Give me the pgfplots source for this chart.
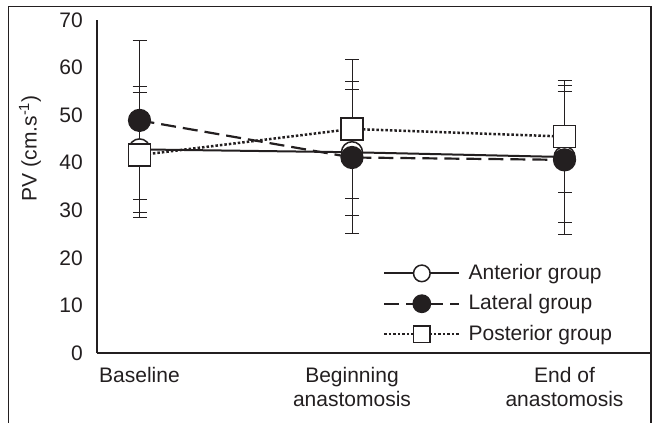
\documentclass[border=0pt]{standalone}
\usepackage{fontspec}
\setmainfont{Liberation Sans}
\usepackage{pgfplots}
\pgfplotsset{compat=1.18}
\definecolor{ink}{RGB}{35,31,32}

\begin{document}
\fontsize{21}{24.5}\selectfont
\begin{tikzpicture}[x=1pt,y=1pt]
\useasboundingbox (0,0) rectangle (664,-423);
\draw[ink, line width=1.2pt] (8.5,-423) -- (8.5,-6.5) -- (651,-6.5) -- (651,-423);
\begin{axis}[
  at={(97pt,-353pt)}, anchor=south west,
  scale only axis, width=554pt, height=333pt,
  xmin=-0.2, xmax=2.407, ymin=0, ymax=70,
  axis x line=bottom, axis y line=left,
  axis line style={-, ink, line width=1.2pt},
  major tick length=0pt,
  ytick={0,10,...,70},
  xtick={0,1,2},
  xticklabels={Baseline, Beginning\\anastomosis, End of\\anastomosis},
  xticklabel style={align=center, yshift=-7pt, font=\fontsize{21}{24.5}\selectfont, text=ink},
  yticklabel style={xshift=-7pt, text=ink},
  /pgf/number format/assume math mode=true,
  ylabel={PV (cm.s\textsuperscript{-1})},
  ylabel style={at={(axis description cs:-0.121,0.615)}, anchor=center, text=ink},
  clip=false,
  legend style={draw=none, fill=none, inner sep=0pt, row sep=8pt, column sep=6pt,
    at={(rel axis cs:0.516,0.148)}, anchor=west, text=ink},
  legend cell align=left,
  legend image code/.code={\draw[mark repeat=2,mark phase=2,#1,mark size=8.3pt] plot coordinates {(0pt,0pt) (37.5pt,0pt) (75pt,0pt)};},
  error bars/y dir=both, error bars/y explicit,
  error bars/error bar style={solid, ink, line width=1pt},
  error bars/error mark options={solid, ink, line width=1pt, mark size=7pt, rotate=90},
]
% anterior group
\addplot[ink, solid, line width=2pt, mark=*, mark size=10.5pt,
  mark options={solid, fill=white, draw=ink, line width=1.5pt}]
  coordinates {(0,42.8) +- (0,13.2) (1,42.2) +- (0,13.2) (2,41.2) +- (0,13.8)};
\addlegendentry{Anterior group}
% lateral group
\addplot[ink, dash pattern=on 15pt off 7pt, line width=2.2pt, mark=*, mark size=10.5pt,
  mark options={solid, fill=ink, draw=ink}]
  coordinates {(0,48.9) +- (0,16.7) (1,41.1) +- (0,15.9) (2,40.6) +- (0,15.6)};
\addlegendentry{Lateral group}
% posterior group
\addplot[ink, dash pattern=on 2.5pt off 2pt, line width=2.5pt, mark=square*, mark size=11pt,
  mark options={solid, fill=white, draw=ink, line width=1.5pt}]
  coordinates {(0,41.6) +- (0,13.2) (1,47.1) +- (0,14.7) (2,45.5) +- (0,11.8)};
\addlegendentry{Posterior group}
\end{axis}
\end{tikzpicture}
\end{document}
